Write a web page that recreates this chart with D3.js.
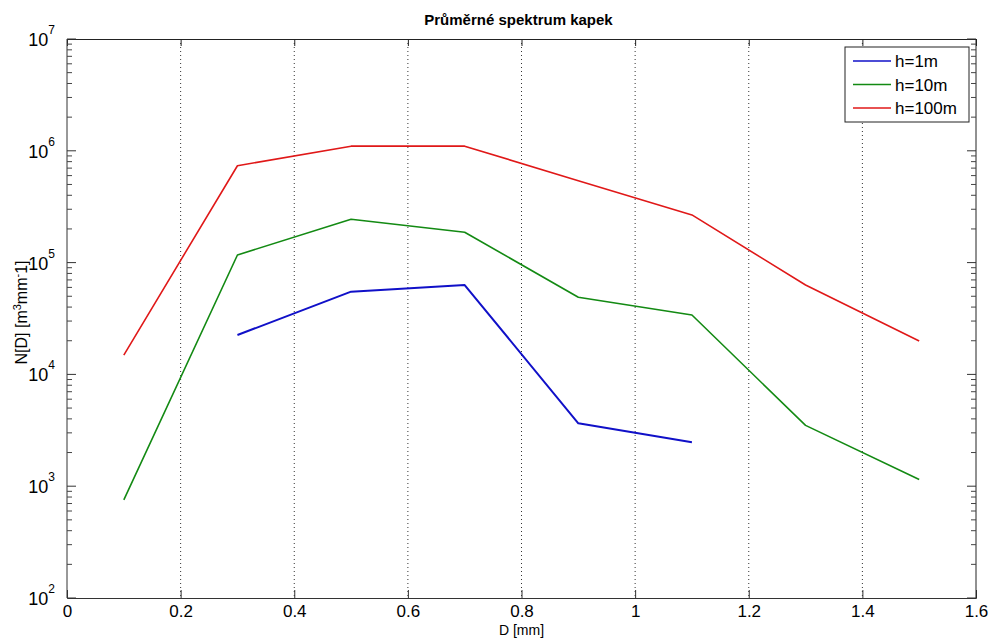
<!DOCTYPE html>
<html>
<head>
<meta charset="utf-8">
<script src="https://cdn.jsdelivr.net/npm/d3@7"></script>
<style>
  body { margin: 0; background: #fff; }
  svg { font-family: "Liberation Sans", Arial, sans-serif; }
</style>
</head>
<body>
<div id="chart"></div>
<script>
// diameters (mm)
const diameters = [0.1, 0.3, 0.5, 0.7, 0.9, 1.1, 1.3, 1.5];
// N[D] per height, null = no value
const h1m = [null, 2.25e4, 5.5e4, 6.3e4, 3.65e3, 2.47e3, null, null];
const h10m = [754, 1.17e5, 2.44e5, 1.87e5, 4.9e4, 3.4e4, 3.5e3, 1.15e3];
const h100m = [1.49e4, 7.35e5, 1.1e6, 1.1e6, 5.4e5, 2.67e5, 6.3e4, 1.99e4];
const seriesNames = ['h=1m', 'h=10m', 'h=100m'];
const seriesColors = ['#1010c8', '#138a13', '#e01818'];
const xTicks = [0, 0.2, 0.4, 0.6, 0.8, 1, 1.2, 1.4, 1.6];

const width = 992, height = 639;
const plotLeft = 67, plotRight = 976, plotTop = 39, plotBottom = 598;

const svg = d3.select('#chart').append('svg')
    .attr('width', width)
    .attr('height', height);

const x = d3.scaleLinear().domain([0, 1.6]).range([plotLeft, plotRight]);
const y = d3.scaleLog().domain([1e2, 1e7]).range([plotBottom, plotTop]);

// vertical dotted grid
svg.append('g')
    .selectAll('line')
    .data(xTicks.slice(1, -1))
    .enter().append('line')
    .attr('x1', d => x(d)).attr('x2', d => x(d))
    .attr('y1', plotTop).attr('y2', plotBottom)
    .attr('stroke', '#333')
    .attr('stroke-width', 1)
    .attr('stroke-dasharray', '1,3');

// x axes (bottom with labels, top ticks only)
const xAxis = d3.axisBottom(x).tickValues(xTicks).tickSize(-8).tickPadding(7)
    .tickFormat(d => d3.format('')(d));
const gx = svg.append('g').attr('transform', `translate(0,${plotBottom})`).call(xAxis);
gx.select('.domain').attr('stroke', '#333');
gx.selectAll('.tick line').attr('stroke', '#333');
gx.selectAll('.tick text')
    .attr('font-size', 17)
    .attr('fill', '#000')
    .attr('font-family', '"Liberation Sans", Arial, sans-serif');

const gxTop = svg.append('g').attr('transform', `translate(0,${plotTop})`)
    .call(d3.axisTop(x).tickValues(xTicks).tickSize(-7).tickFormat(''));
gxTop.select('.domain').attr('stroke', '#222');
gxTop.selectAll('.tick line').attr('stroke', '#222');

// y log ticks, majors and minors on both sides
const majors = [1e2, 1e3, 1e4, 1e5, 1e6, 1e7];
const minors = y.ticks(60).filter(v => !majors.some(m => Math.abs(m - v) < 1e-6 * m));

function yTicks(g, side) {
    const dir = side === 'left' ? 1 : -1;
    const x0 = side === 'left' ? plotLeft : plotRight;
    g.append('line')
        .attr('x1', x0).attr('x2', x0).attr('y1', plotTop).attr('y2', plotBottom)
        .attr('stroke', side === 'left' ? '#333' : '#222');
    g.selectAll('line.maj').data(majors).enter().append('line')
        .attr('class', 'maj')
        .attr('x1', x0).attr('x2', x0 + dir * 9)
        .attr('y1', d => y(d)).attr('y2', d => y(d))
        .attr('stroke', '#333');
    g.selectAll('line.min').data(minors).enter().append('line')
        .attr('class', 'min')
        .attr('x1', x0).attr('x2', x0 + dir * 5)
        .attr('y1', d => y(d)).attr('y2', d => y(d))
        .attr('stroke', '#444');
}
yTicks(svg.append('g'), 'left');
yTicks(svg.append('g'), 'right');

// y labels 10^n
const yl = svg.append('g').selectAll('text').data(majors).enter().append('text')
    .attr('x', plotLeft - 12)
    .attr('y', d => y(d) + 7)
    .attr('text-anchor', 'end')
    .attr('font-size', 18)
    .attr('fill', '#000');
yl.append('tspan').text('10');
yl.append('tspan')
    .attr('dy', -12)
    .attr('font-size', 12)
    .text(d => Math.round(Math.log10(d)));

// series lines
const allSeries = [h1m, h10m, h100m];
const line = d3.line()
    .defined(d => d[1] != null)
    .x(d => x(d[0]))
    .y(d => y(d[1]));

svg.append('g')
    .selectAll('path')
    .data(allSeries)
    .enter().append('path')
    .attr('d', s => line(diameters.map((dm, i) => [dm, s[i]])))
    .attr('fill', 'none')
    .attr('stroke', (s, i) => seriesColors[i])
    .attr('stroke-width', (s, i) => i === 0 ? 2 : 1.6)
    .attr('stroke-linejoin', 'round');

// title and axis labels
svg.append('text')
    .attr('x', (plotLeft + plotRight) / 2 - 3)
    .attr('y', 25)
    .attr('text-anchor', 'middle')
    .attr('font-size', 15)
    .attr('font-weight', 'bold')
    .text('Průměrné spektrum kapek');

svg.append('text')
    .attr('x', (plotLeft + plotRight) / 2)
    .attr('y', 635)
    .attr('text-anchor', 'middle')
    .attr('font-size', 14)
    .text('D [mm]');

const ylab = svg.append('text')
    .attr('transform', `translate(27,${(plotTop + plotBottom) / 2 - 6}) rotate(-90)`)
    .attr('text-anchor', 'middle')
    .attr('font-size', 16);
ylab.append('tspan').text('N[D] [m');
ylab.append('tspan').attr('dy', -6).attr('font-size', 11).text('3');
ylab.append('tspan').attr('dy', 6).text('mm');
ylab.append('tspan').attr('dy', -6).attr('font-size', 11).text('-');
ylab.append('tspan').attr('dy', 6).text('1]');

// legend
const lg = svg.append('g').attr('transform', 'translate(845,47)');
lg.append('rect')
    .attr('width', 124).attr('height', 75)
    .attr('fill', '#fff').attr('stroke', '#222');
const rows = lg.selectAll('g.row').data(seriesNames).enter().append('g')
    .attr('class', 'row')
    .attr('transform', (d, i) => `translate(0,${14 + i * 23.5})`);
rows.append('line')
    .attr('x1', 8).attr('x2', 46)
    .attr('stroke', (d, i) => seriesColors[i])
    .attr('stroke-width', 1.6);
rows.append('text')
    .attr('x', 50).attr('y', 6)
    .attr('font-size', 17)
    .text(d => d);
</script>
</body>
</html>
